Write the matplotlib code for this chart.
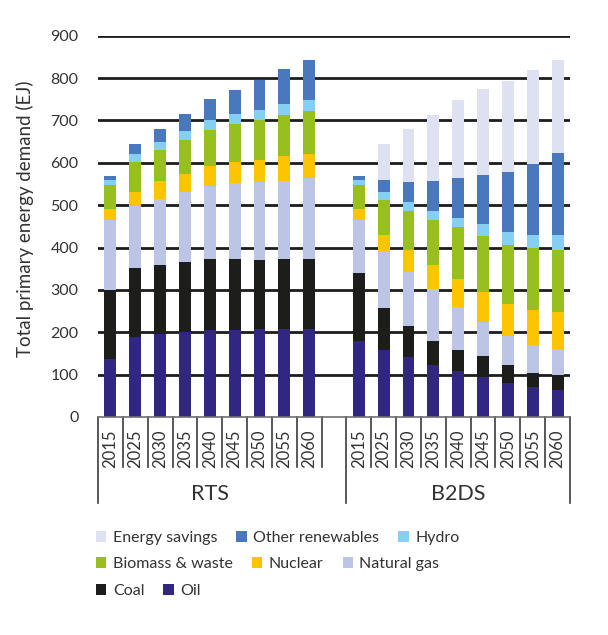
import matplotlib
matplotlib.use('Agg')
import matplotlib.pyplot as plt
import matplotlib.transforms as mtransforms
from matplotlib.lines import Line2D
import numpy as np

plt.rcParams['font.family'] = ['Lato', 'DejaVu Sans']

# ---------- data (EJ) ----------
years = ['2015', '2025', '2030', '2035', '2040', '2045', '2050', '2055', '2060']
scenarios = ['RTS', 'B2DS']

# RTS
oil_rts = [136, 190, 196, 201, 205, 205, 207, 207, 207]
coal_rts = [163, 161, 162, 164, 167, 167, 163, 165, 165]
gas_rts = [166, 147, 156, 166, 174, 180, 185, 185, 192]
nuclear_rts = [25, 33, 43, 42, 46, 49, 51, 59, 56]
biomass_rts = [57, 70, 74, 80, 85, 90, 95, 96, 102]
hydro_rts = [12, 19, 18, 22, 24, 24, 23, 26, 26]
other_rts = [9, 24, 30, 40, 49, 57, 71, 83, 94]
savings_rts = [0, 0, 0, 0, 0, 0, 0, 0, 0]

# B2DS
oil_b2ds = [179, 157, 141, 122, 108, 94, 80, 70, 63]
coal_b2ds = [160, 100, 73, 57, 49, 49, 42, 35, 35]
gas_b2ds = [126, 134, 128, 122, 102, 81, 69, 64, 62]
nuclear_b2ds = [25, 38, 52, 57, 66, 70, 75, 83, 87]
biomass_b2ds = [57, 83, 92, 106, 123, 133, 139, 146, 147]
hydro_b2ds = [12, 19, 21, 22, 21, 28, 31, 31, 35]
other_b2ds = [9, 29, 48, 70, 95, 116, 143, 169, 194]
savings_b2ds = [0, 84, 125, 157, 185, 203, 214, 221, 219]

labels = ['Oil', 'Coal', 'Natural gas', 'Nuclear', 'Biomass & waste',
          'Hydro', 'Other renewables', 'Energy savings']
colors = ['#312783', '#1d1d1b', '#bdc5e6', '#fdc400', '#97bf1e',
          '#85cff3', '#4a78be', '#dee1f2']

rts = [oil_rts, coal_rts, gas_rts, nuclear_rts, biomass_rts,
       hydro_rts, other_rts, savings_rts]
b2ds = [oil_b2ds, coal_b2ds, gas_b2ds, nuclear_b2ds, biomass_b2ds,
        hydro_b2ds, other_b2ds, savings_b2ds]

# ---------- figure ----------
fig = plt.figure(figsize=(6.08, 6.35), dpi=100)
ax = fig.add_axes([98 / 608, 1 - 417 / 635, 472 / 608, 381.3 / 635])

n = len(years)
x_rts = np.arange(n)
x_b2ds = np.arange(n) + n + 1
width = 0.48

handles = []
bottom_r = np.zeros(n)
bottom_b = np.zeros(n)
for vals_r, vals_b, lab, col in zip(rts, b2ds, labels, colors):
    h = ax.bar(x_rts, vals_r, width, bottom=bottom_r, color=col, label=lab)
    ax.bar(x_b2ds, vals_b, width, bottom=bottom_b, color=col)
    bottom_r += np.array(vals_r)
    bottom_b += np.array(vals_b)
    handles.append(h)

ax.set_xlim(-0.5, 2 * n + 0.5)
ax.set_ylim(0, 900)
ax.set_yticks(np.arange(0, 901, 100))
ax.tick_params(axis='y', length=0, pad=14, labelsize=11.5, labelcolor='#333333')
ax.set_xticks([])
ax.set_axisbelow(True)
ax.yaxis.grid(True, color='#1d1d1b', linewidth=2.0)
ax.get_ygridlines()[0].set_visible(False)
for s in ['left', 'right', 'top']:
    ax.spines[s].set_visible(False)
ax.spines['bottom'].set_color('#6f6f6f')
ax.spines['bottom'].set_linewidth(1.2)

ax.set_ylabel('Total primary energy demand (EJ)', fontsize=13.5, color='#333333')
ax.yaxis.set_label_coords(-0.136, 0.52)

# ---------- category axis (two levels) ----------
trans = mtransforms.blended_transform_factory(ax.transData, ax.transAxes)
year_depth = -50 / 381.3
group_depth = -86 / 381.3
line_kw = dict(color='#3c3c3b', linewidth=1.2, transform=trans, clip_on=False)

for xs in [x_rts, x_b2ds]:
    for xi, yr in zip(xs, years):
        ax.text(xi, -12 / 381.3, yr, rotation=90, ha='center', va='top',
                fontsize=12, color='#333333', transform=trans)

year_lines = list(x_rts + 0.5) + list(x_b2ds[:-1] + 0.5)
for xl in year_lines:
    ax.add_line(Line2D([xl, xl], [0, year_depth], **line_kw))
for xl in [-0.5, n + 0.5, 2 * n + 0.5]:
    ax.add_line(Line2D([xl, xl], [0, group_depth], **line_kw))

for xs, name in zip([x_rts, x_b2ds], scenarios):
    ax.text(xs.mean(), -77 / 381.3, name, ha='center', va='center',
            fontsize=15.5, color='#333333', transform=trans)

# ---------- legend (three flowing rows) ----------
rows = [[7, 6, 5], [4, 3, 2], [1, 0]]
row_y = [538, 564, 591]
for idx, yy in zip(rows, row_y):
    leg = fig.legend([handles[i] for i in idx], [labels[i] for i in idx],
                     loc='center left', bbox_to_anchor=(96 / 608, 1 - yy / 635),
                     ncol=len(idx), frameon=False, fontsize=11.5,
                     handlelength=0.65, handleheight=0.65, handletextpad=0.4,
                     columnspacing=1.2, borderpad=0, borderaxespad=0)
    for t in leg.get_texts():
        t.set_color('#333333')

fig.savefig('out.png', dpi=100)
